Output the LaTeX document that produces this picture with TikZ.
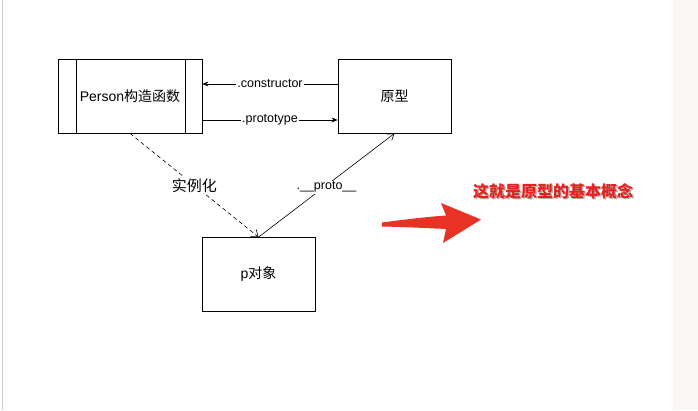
\documentclass[tikz,border=0pt]{standalone}
\usepackage{fontspec}
\setmainfont{Liberation Sans}
\newfontfamily\cjk{Noto Sans CJK SC}
\usepackage{xcolor}
\usetikzlibrary{arrows.meta, positioning}
\definecolor{ArrowRed}{RGB}{232,50,38}
\definecolor{NoteRed}{RGB}{228,34,30}
\definecolor{EdgeGray}{RGB}{205,205,205}
\definecolor{PageGray}{RGB}{249,248,247}
\tikzset{
  box/.style={
    rectangle, draw=black, line width=0.8pt, fill=white,
    minimum width=113pt, minimum height=74pt, inner sep=0pt,
    font=\fontsize{14}{16}\selectfont
  },
  procbox/.style={
    box, minimum width=144pt,
    path picture={
      \draw[line width=0.8pt] ([xshift=18pt]path picture bounding box.north west)
        -- ([xshift=18pt]path picture bounding box.south west);
      \draw[line width=0.8pt] ([xshift=-17pt]path picture bounding box.north east)
        -- ([xshift=-17pt]path picture bounding box.south east);
    }
  },
  arr/.style={-{Stealth[length=6pt,width=5pt]}, draw=black, line width=0.7pt},
  darr/.style={-{Straight Barb[length=6pt,width=9pt]}, draw=black, line width=0.6pt,
    dash pattern=on 4pt off 3pt},
  parr/.style={-{Straight Barb[length=6pt,width=8pt]}, draw=black, line width=0.6pt},
  lbl/.style={font=\fontsize{12.5}{14}\selectfont, fill=white, inner sep=1pt},
  note/.style={font=\cjk\bfseries\fontsize{16}{18}\selectfont, text=NoteRed, inner sep=1pt}
}
\begin{document}
\begin{tikzpicture}[x=1pt, y=-1pt]
  \useasboundingbox (0,0) rectangle (698,410);

  % page
  \fill[white] (0,0) rectangle (698,410);
  \fill[PageGray] (673,0) rectangle (698,410);
  \draw[EdgeGray, line width=1pt] (2.5,0) -- (2.5,410);

  % boxes
  \node[procbox] (person) at (130,96) {Person{\cjk 构造函数}};
  \node[box] (proto) at (394.5,96) {\cjk 原型};
  \node[box] (pobj) at (258.5,274.5) {p{\cjk 对象}};

  % arrows
  \draw[arr] ([yshift=12pt]proto.west) -- ([yshift=12pt]person.east)
    node[lbl, pos=0.5] (ctorlbl) {.constructor};
  \draw[arr] ([yshift=-24pt]person.east) -- ([yshift=-24pt]proto.west)
    node[lbl, pos=0.5] (protolbl) {.prototype};
  \draw[darr] (person.south) -- (pobj.north)
    node[lbl, pos=0.5, font=\cjk\fontsize{15}{17}\selectfont] (newlbl) {实例化};
  \draw[parr] (pobj.north) -- (proto.south)
    node[lbl, pos=0.5, yshift=-2pt] (dunderlbl) {.\_\_proto\_\_};

  % remark
  \fill[ArrowRed] (382,222.5) .. controls (405,219.5) and (425,217) .. (446,215.5)
    -- (441,203) -- (481,219.5) -- (443,243) -- (446,229)
    .. controls (425,228) and (405,227) .. (382,226.5) -- cycle;
  \node[note, text=black!30] (conceptshadow) at (554.5,192.5) {这就是原型的基本概念};
  \node[note] (concept) at (553,191) {这就是原型的基本概念};
\end{tikzpicture}
\end{document}
